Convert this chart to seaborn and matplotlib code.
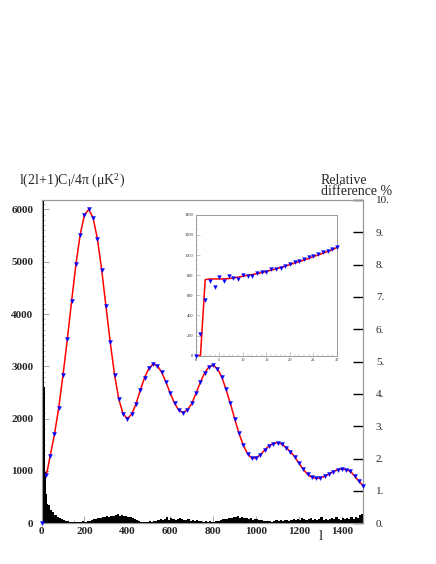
import numpy as np
import matplotlib
matplotlib.use("Agg")
from matplotlib import pyplot as plt
from matplotlib.ticker import MultipleLocator
import seaborn as sns

# ---- data ----
# inset, low multipoles l = 0..30
low_l = list(range(31))
low_pts = [0, 218, 553, 742, 682, 781, 745, 795, 775, 758, 801, 795, 791, 824, 828,
           831, 861, 861, 871, 894, 907, 934, 940, 957, 980, 993, 1006, 1030, 1043,
           1060, 1083]
low_fit = [0, 0, 755, 762, 762, 762, 763, 766, 772, 780, 790, 798, 806, 815, 825,
           838, 850, 862, 875, 890, 905, 920, 935, 950, 965, 985, 1000, 1018, 1035,
           1052, 1075]

# main spectrum, l = 20..1500 every 20
main_l = list(range(20, 1501, 20))
main_pts = [920, 1290, 1700, 2210, 2840, 3520, 4250, 4950, 5520, 5900,
            6000, 5840, 5440, 4850, 4150, 3460, 2840, 2370, 2090, 2000,
            2085, 2280, 2540, 2785, 2960, 3045, 3010, 2885, 2695, 2485,
            2290, 2160, 2115, 2170, 2290, 2485, 2695, 2875, 2990, 3020,
            2955, 2795, 2560, 2290, 2000, 1720, 1495, 1330, 1245, 1250,
            1310, 1400, 1480, 1525, 1540, 1515, 1445, 1370, 1270, 1145,
            1030, 935, 878, 860, 866, 897, 943, 987, 1025, 1038,
            1025, 992, 897, 800, 710]

# relative difference %, single l bins for l < 30 then bins of 10
diff_low = [0, 0, 14, 14, 13, 12, 12, 11, 11, 11, 11, 11, 10.5, 4.2, 4.0,
            2.6, 2.4, 1.8, 1.6, 1.7, 1.4, 1.1, 0.9, 1.0, 0.8, 0.7, 0.9, 0.6, 0.7, 0.5]
diff_high = [0.55, 0.40, 0.35, 0.25, 0.20, 0.15, 0.12, 0.10, 0.08, 0.07, 0.05, 0.04,
             0.04, 0.03, 0.05, 0.04, 0.06, 0.05, 0.07, 0.08, 0.10, 0.12,
             0.14, 0.16, 0.15, 0.20, 0.18, 0.22, 0.19, 0.24, 0.21, 0.26,
             0.28, 0.23, 0.25, 0.22, 0.24, 0.20, 0.18, 0.15, 0.12, 0.10,
             0.06, 0.04, 0.05, 0.03, 0.04, 0.06, 0.05, 0.08, 0.07, 0.10,
             0.12, 0.09, 0.14, 0.18, 0.11, 0.15, 0.13, 0.10, 0.12, 0.16,
             0.14, 0.11, 0.09, 0.12, 0.08, 0.10, 0.07, 0.09, 0.06, 0.08,
             0.05, 0.07, 0.04, 0.06, 0.05, 0.04, 0.08, 0.06, 0.10, 0.12,
             0.14, 0.12, 0.17, 0.15, 0.20, 0.18, 0.24, 0.16, 0.19, 0.15,
             0.17, 0.13, 0.15, 0.10, 0.14, 0.12, 0.09, 0.11, 0.08, 0.07,
             0.06, 0.08, 0.05, 0.07, 0.09, 0.06, 0.10, 0.08, 0.11, 0.09,
             0.07, 0.10, 0.12, 0.09, 0.14, 0.11, 0.16, 0.13, 0.10, 0.12,
             0.15, 0.11, 0.13, 0.09, 0.12, 0.18, 0.10, 0.14, 0.11, 0.13,
             0.16, 0.12, 0.20, 0.14, 0.11, 0.15, 0.13, 0.17, 0.12, 0.18,
             0.14, 0.20, 0.16, 0.25, 0.30]

main_ticks = [0, 1000, 2000, 3000, 4000, 5000, 6000]
right_labels = ["%d." % i for i in range(11)]

# ---- style ----
sns.set_style("ticks")
plt.rcParams["font.family"] = ["Liberation Serif", "DejaVu Serif"]
plt.rcParams["mathtext.fontset"] = "stix"

RED = "#ff0000"
BLUE = "#0000ff"
GRAY = "#9a9a9a"

fig = plt.figure(figsize=(4.36, 5.64), dpi=100)
ax = fig.add_axes([0.0954, 0.0722, 0.738, 0.5732])

# theory line: low l part + the rest
line_l = low_l + main_l[1:]
line_v = low_fit + main_pts[1:]
sns.lineplot(x=line_l, y=line_v, ax=ax, color=RED, linewidth=1.1, sort=False)
ax.set_xlim(0, 1500)
ax.set_ylim(0, 6180)

# histogram of relative difference on the right axis
ax2 = ax.twinx()
edges = list(range(0, 31)) + list(range(40, 1501, 10))
vals = diff_low + diff_high
centers = [(edges[i] + edges[i + 1]) / 2 for i in range(len(vals))]
sns.histplot(x=centers, weights=vals, bins=edges, element="step", fill=True,
             color="black", alpha=1, linewidth=0, ax=ax2)
ax2.set_ylim(0, 10)
ax2.set_xlim(0, 1500)
ax2.set_ylabel("")

# data points on top
ax3 = ax.twinx()
pts_l = [0] + main_l
pts_v = [low_pts[0]] + main_pts
sns.scatterplot(x=pts_l, y=pts_v, ax=ax3, marker="v", color=BLUE, s=9,
                edgecolor=BLUE, linewidth=0.2, zorder=5, clip_on=False)
ax3.set_ylim(ax.get_ylim())
ax3.set_xlim(0, 1500)
ax3.axis("off")

for a in (ax, ax2):
    for sp in a.spines.values():
        sp.set_color(GRAY)
        sp.set_linewidth(0.8)

ax.set_yticks(main_ticks)
ax.set_yticklabels([str(t) for t in main_ticks], fontweight="bold", fontsize=8)
ax.yaxis.set_minor_locator(MultipleLocator(100))
ax.set_xticks(range(0, 1401, 200))
ax.set_xticklabels([str(t) for t in range(0, 1401, 200)], fontweight="bold", fontsize=8)
ax.xaxis.set_minor_locator(MultipleLocator(50))
ax.tick_params(axis="both", which="major", direction="in", length=5, width=0.6,
               color=GRAY, pad=4)
ax.tick_params(axis="both", which="minor", direction="in", length=2.5, width=0.5,
               color=GRAY)
ax.tick_params(axis="y", pad=6)
ax.tick_params(axis="x", pad=3)
ax.set_xlabel("")
ax.set_ylabel("")

ax2.set_yticks(range(11))
ax2.set_yticklabels(right_labels, fontsize=8)
ax2.yaxis.set_minor_locator(MultipleLocator(0.5))
ax2.tick_params(axis="y", which="major", direction="in", length=7, width=1.0,
                color="black", pad=9)
ax2.tick_params(axis="y", which="minor", length=0)

fig.text(19 / 436, 1 - 181 / 564,
         r"l(2l+1)C$_\mathregular{l}$/4$\mathregular{\pi}$ ($\mathregular{\mu}$K$^\mathregular{2}$)",
         fontsize=10, ha="left", va="center")
fig.text(321 / 436, 1 - 186 / 564, "Relative\ndifference %", fontsize=10,
         ha="left", va="center", linespacing=0.75)
fig.text(321 / 436, 1 - 537 / 564, "l", fontsize=11, ha="center", va="center")

# ---- inset ----
axi = fig.add_axes([0.449, 0.3693, 0.324, 0.25])
sns.lineplot(x=low_l, y=low_fit, ax=axi, color=RED, linewidth=1.1, sort=False)
sns.scatterplot(x=low_l, y=low_pts, ax=axi, marker="v", color=BLUE, s=8,
                edgecolor=BLUE, linewidth=0.2, zorder=5, clip_on=False)
axi.set_xlim(0, 30)
axi.set_ylim(0, 1400)
axi.set_xticks(range(0, 31, 5))
axi.set_yticks(range(0, 1401, 200))
axi.xaxis.set_minor_locator(MultipleLocator(1))
axi.yaxis.set_minor_locator(MultipleLocator(50))
axi.tick_params(axis="both", which="major", direction="in", length=3, width=0.4,
                color=GRAY, labelsize=3.2, pad=2)
axi.tick_params(axis="both", which="minor", direction="in", length=1.5, width=0.3,
                color=GRAY)
axi.set_xlabel("")
axi.set_ylabel("")
for sp in axi.spines.values():
    sp.set_color(GRAY)
    sp.set_linewidth(0.7)

fig.savefig("out.png", dpi=100)
